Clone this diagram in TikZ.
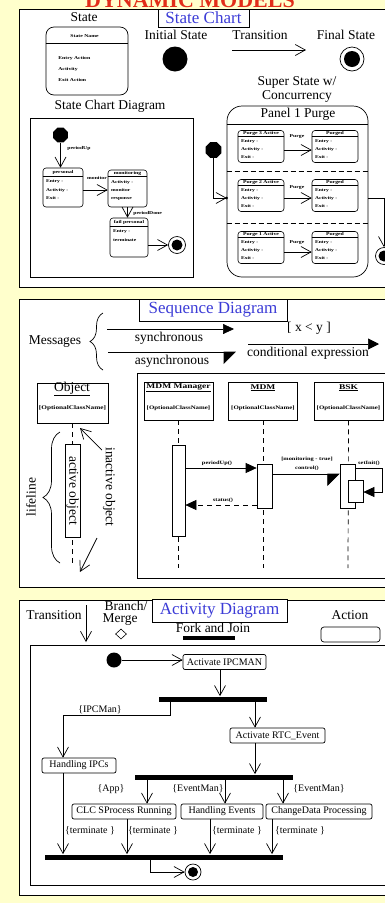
\documentclass[tikz,border=0pt]{standalone}
\usepackage{fontspec}
\setmainfont{Liberation Serif}
\newfontfamily\widefont[FakeStretch=1.3]{Liberation Serif}
\usetikzlibrary{arrows.meta,calc,decorations.pathreplacing,shapes.geometric}
\definecolor{bgyellow}{RGB}{255,255,204}
\definecolor{ttlblue}{RGB}{60,60,215}
\definecolor{ttlred}{RGB}{225,45,25}
\tikzset{
  panel/.style={draw=black, fill=white, line width=1pt},
  lbl/.style={inner sep=0, font=\fontsize{13.5}{15}\selectfont},
  ttlbox/.style={draw, fill=white, line width=0.8pt, text=ttlblue, font=\fontsize{17}{19}\selectfont, inner sep=0},
  tinyt/.style={inner sep=0, font=\widefont\bfseries\fontsize{4.4}{5}\selectfont},
  sbody/.style={inner sep=0, align=left, font=\widefont\bfseries\fontsize{4.3}{8.2}\selectfont},
  sbox/.style={draw, rounded corners=3pt, inner sep=0, fill=white, line width=0.6pt},
  oarr/.style={-{Straight Barb[length=10pt,width=11pt]}},
  farr/.style={-{Triangle[length=11pt,width=10pt]}},
  harr/.style={-{Triangle[right,length=12pt,width=24pt]}},
  lifel/.style={dash pattern=on 5pt off 4pt},
  oct/.style={regular polygon, regular polygon sides=8, fill=black, inner sep=0},
  objbox/.style={draw, fill=white, inner sep=0, minimum width=69pt, minimum height=38pt},
  actbox/.style={draw, fill=white, inner sep=0, minimum width=15pt},
  actn/.style={draw, fill=white, rounded corners=2pt, inner sep=0, minimum height=15pt, font=\fontsize{10}{11}\selectfont},
  forkbar/.style={fill=black, inner sep=0, minimum height=5pt},
  alb/.style={inner sep=0, font=\fontsize{10}{11}\selectfont},
  mlb/.style={inner sep=0, font=\widefont\bfseries\fontsize{4.9}{5}\selectfont},
}
\newcommand{\sstate}[7]{%
  \node[sbox, minimum width=#3pt, minimum height=#4pt] (#1) at (#2) {};
  \draw[line width=0.5pt] ($(#1.north west)+(0,#5)$) -- ($(#1.north east)+(0,#5)$);
  \node[tinyt] at ($(#1.north)+(0,#5/2)$) {#6};
  \node[sbody, anchor=north west] at ($(#1.north west)+(3,#5+3)$) {#7};
}
\begin{document}
\begin{tikzpicture}[x=1pt,y=-1pt,line width=0.7pt]
\useasboundingbox (0,0) rectangle (385,903);
\clip (0,0) rectangle (385,903);
\fill[bgyellow] (0,0) rectangle (385,903);
\node[anchor=base, text=ttlred, font=\bfseries\fontsize{22}{24}\selectfont, inner sep=0] (maintitle) at (190,7) {DYNAMIC MODELS};

% ================= Panel 1 : State chart
\draw[panel] (19,9) rectangle (392,287);
\node[ttlbox, minimum width=91pt, minimum height=18pt] (t1) at (203.5,18) {State Chart};

\node[lbl] (lstate) at (84,17) {State};
\node[draw, rounded corners=8pt, minimum width=82pt, minimum height=68pt, inner sep=0] (sleg) at (87,61) {};
\draw[line width=0.5pt] ($(sleg.north west)+(0,17)$) -- ($(sleg.north east)+(0,17)$);
\node[tinyt] (slegn) at (84.5,36) {State Name};
\node[tinyt, anchor=west] (slege) at (58,58) {Entry Action};
\node[tinyt, anchor=west] (slega) at (58,69) {Activity};
\node[tinyt, anchor=west] (slegx) at (58,80) {Exit Action};

\node[lbl] (linitl) at (176,35) {Initial State};
\node[fill, circle, minimum size=25pt, inner sep=0] (linit) at (175,59) {};
\node[lbl] (ltransl) at (260,35) {Transition};
\coordinate (ta) at (232,50);
\coordinate (tb) at (306,50);
\draw[oarr] (ta) -- (tb);
\node[lbl] (lfinl) at (346,35) {Final State};
\node[draw, circle, minimum size=24pt, inner sep=0] (lfin) at (352,59) {};
\node[fill, circle, minimum size=16pt, inner sep=0] (lfini) at (lfin) {};

% state chart diagram
\node[lbl] (scdl) at (110,106) {State Chart Diagram};
\draw (30,118) rectangle (193,277);
\node[oct, minimum size=16pt] (d0) at (60.5,135) {};
\sstate{d1}{63,187.5}{40}{39}{9}{personal}{Entry -\\Activity -\\Exit -}
\sstate{d2}{127.5,188.5}{39}{37}{7}{monitoring}{Activity -\\monitor\\response}
\sstate{d3}{129,237.5}{38}{39}{9}{fail personal}{Entry -\\terminate}
\node[draw, circle, minimum size=17pt, inner sep=0] (d4) at (177,245) {};
\node[fill, circle, minimum size=11pt, inner sep=0] (d4i) at (d4) {};
\draw[oarr] (d0) -- (d0 |- d1.north);
\node[tinyt, anchor=west] (l01) at (67,148) {periodUp};
\draw[oarr] ($(d1.east)+(0,2.5)$) -- ($(d2.west)+(0,1.5)$);
\node[tinyt] (l12) at (97,178) {monitor};
\draw[oarr] (d2.south) -- (d2.south |- d3.north);
\node[tinyt, anchor=west] (l23) at (133,213) {periodDone};
\draw[oarr] ($(d3.east)+(0,7.5)$) -- (d4.west);

% super state
\node[lbl] (ssl1) at (297,82) {Super State w/};
\node[lbl] (ssl2) at (297,96) {Concurrency};
\node[draw, rounded corners=15pt, minimum width=141pt, minimum height=171pt, inner sep=0] (sup) at (297.5,191.5) {};
\draw ($(sup.north west)+(0,19)$) -- ($(sup.north east)+(0,19)$);
\node[lbl] (supl) at (298,114) {Panel 1 Purge};
\draw[dash pattern=on 5pt off 3pt] ($(sup.north west)+(0,66)$) -- ($(sup.north east)+(0,66)$);
\draw[dash pattern=on 5pt off 3pt] ($(sup.north west)+(0,118)$) -- ($(sup.north east)+(0,118)$);
\sstate{p1a}{261,146.5}{46}{32}{6}{Purge 3 Active}{Entry -\\Activity -\\Exit -}
\sstate{p1b}{335,146.5}{46}{32}{6}{Purged}{Entry -\\Activity -\\Exit -}
\sstate{p2a}{261,195.5}{46}{32}{6}{Purge 2 Active}{Entry -\\Activity -\\Exit -}
\sstate{p2b}{335,195.5}{46}{32}{6}{Purged}{Entry -\\Activity -\\Exit -}
\sstate{p3a}{261,247.5}{46}{32}{6}{Purge 1 Active}{Entry -\\Activity -\\Exit -}
\sstate{p3b}{335,247.5}{46}{32}{6}{Purged}{Entry -\\Activity -\\Exit -}
\draw[oarr] ($(p1a.east)+(0,3.5)$) -- ($(p1b.west)+(0,3.5)$);
\draw[oarr] ($(p2a.east)+(0,2.5)$) -- ($(p2b.west)+(0,2.5)$);
\draw[oarr] ($(p3a.east)+(0,4.5)$) -- ($(p3b.west)+(0,4.5)$);
\node[tinyt] (pl1) at (297,137) {Purge};
\node[tinyt] (pl2) at (297,188) {Purge};
\node[tinyt] (pl3) at (297,243) {Purge};
\node[oct, minimum size=17pt] (s0) at (213.5,150) {};
\coordinate (s0b) at (213.5,198);
\draw[oarr] (s0) -- (s0b) -- (sup.west |- s0b);
\fill (sup.west |- s0b) circle (1.5);
\coordinate (r1) at (384,198);
\node[draw, circle, minimum size=17pt, inner sep=0] (sfin) at (384,256) {};
\node[fill, circle, minimum size=11pt, inner sep=0] (sfini) at (sfin) {};
\draw[oarr] (sup.east |- r1) -- (r1) -- (sfin.north);

% ================= Panel 2 : Sequence
\draw[panel] (19,299) rectangle (392,587);
\node[ttlbox, minimum width=148pt, minimum height=22pt] (t2) at (213,310) {Sequence Diagram};
\node[lbl] (msg) at (55,342) {Messages};
\draw[decorate, decoration={brace, amplitude=13pt}] (103,370) -- (103,313);
\coordinate (sy1) at (107,329);
\coordinate (sy2) at (234,329);
\draw[farr] (sy1) -- (sy2);
\node[lbl] (syl) at (169,338) {synchronous};
\coordinate (as1) at (108,352);
\coordinate (as2) at (236,352);
\draw[harr] (as1) -- (as2);
\node[lbl] (asl) at (172,361) {asynchronous};
\node[lbl] (cdl1) at (309,328) {[ x < y ]};
\coordinate (cd1) at (248,344);
\coordinate (cd2) at (379,344);
\draw[-{Triangle[length=11pt,width=11pt]}] (cd1) -- (cd2);
\node[lbl] (cdl2) at (308,353) {conditional expression};

% object legend
\node[draw, fill=white, minimum width=71pt, minimum height=40pt, inner sep=0] (obj) at (72.5,403) {};
\node[lbl] (objn) at (72,389) {\underline{Object}};
\node[inner sep=0, font=\widefont\bfseries\fontsize{5.6}{6}\selectfont] (objc) at (72.5,408) {[OptionalClassName]};
\coordinate (olend) at (72.5,567);
\draw[lifel] (obj.south) -- (olend);
\node[actbox, minimum height=93pt] (act) at (72.5,490.5) {};
\node[lbl, rotate=-90] (actl) at (act) {active object};
\draw[decorate, decoration={brace, amplitude=17pt}] (60,563) -- (60,432);
\node[lbl, rotate=90] (lifl) at (31,497) {lifeline};
\node[lbl, rotate=-90] (inal) at (109,487) {inactive object};
\coordinate (ia1) at (102,450);
\coordinate (ia2) at (80,428);
\coordinate (ib1) at (97,538);
\coordinate (ib2) at (80,572);
\draw[oarr] (ia1) -- (ia2);
\draw[oarr] (ib1) -- (ib2);

% sequence example
\draw (137,373) rectangle (392,578);
\node[objbox] (mm) at (178.5,401) {};
\node[objbox] (mdm) at (263,401) {};
\node[objbox] (bsk) at (348.5,401) {};
\foreach \o/\t in {mm/MDM Manager, mdm/MDM, bsk/BSK}{
  \node[inner sep=0, font=\widefont\bfseries\fontsize{7.3}{8}\selectfont] at ($(\o.north)+(0,6)$) {\underline{\t}};
  \node[inner sep=0, font=\widefont\bfseries\fontsize{5.3}{6}\selectfont] at ($(\o.north)+(0,27)$) {[OptionalClassName]};
}
\coordinate (mmend) at (178.5,568);
\coordinate (mdmend) at (263,568);
\coordinate (bskend) at (348,568);
\draw[lifel] (mm.south) -- (mmend);
\draw[lifel] (mdm.south) -- (mdmend);
\draw[lifel] (bsk.south) -- (bskend);
\node[actbox, minimum width=13pt, minimum height=91pt] (mma) at (178.5,490.5) {};
\node[actbox, minimum height=44pt] (mdma) at (264.5,486) {};
\node[actbox, minimum height=44pt] (bska) at (347.5,486) {};
\node[actbox, minimum height=22pt] (bskn) at (355.5,491) {};
\coordinate (y1) at (0,468);
\coordinate (y2) at (0,474);
\coordinate (y3) at (0,492);
\coordinate (y4) at (0,505);
\coordinate (sc1) at (382,468);
\coordinate (sc2) at (382,492);
\draw[farr] (mma.east |- y1) -- (mdma.west |- y1);
\node[mlb] (m1) at (217,463) {periodUp()};
\draw[harr] (mdma.east |- y2) -- (bska.west |- y2);
\node[mlb] (m2) at (307,459) {[monitoring - true]};
\node[mlb] (m3) at (307,468) {control()};
\draw[farr] (bska.east |- y1) -- (sc1) -- (sc2) -- (bskn.east |- y3);
\node[mlb] (m4) at (369,463) {setInit()};
\draw[farr, lifel] (mdma.west |- y4) -- (mma.east |- y4);
\node[mlb] (m5) at (223,500) {status()};

% ================= Panel 3 : Activity
\draw[panel] (19,600) rectangle (392,895);
\node[ttlbox, minimum width=135pt, minimum height=23pt] (t3) at (219.5,610.5) {Activity Diagram};
\node[lbl] (trl) at (54,615) {Transition};
\coordinate (tr1) at (86,605);
\coordinate (tr2) at (86,642);
\draw[oarr] (tr1) -- (tr2);
\node[lbl] (brl) at (126,606) {Branch/};
\node[lbl] (mgl) at (120,620) {Merge};
\node[draw, diamond, minimum width=11pt, minimum height=10pt, inner sep=0, line width=0.6pt] (dia) at (121,634) {};
\node[lbl] (fjl) at (213,628) {Fork and Join};
\node[forkbar, minimum width=52pt, minimum height=4pt] (fjb) at (209,638) {};
\node[lbl] (acl) at (350,615) {Action};
\node[draw, fill=white, rounded corners=3pt, minimum width=59pt, minimum height=15pt, inner sep=0] (acb) at (350.5,634.5) {};

\draw (30,645) rectangle (392,885);
\node[fill, circle, minimum size=15pt, inner sep=0] (a0) at (114,660) {};
\node[actn, minimum width=83pt] (a1) at (224.5,662) {Activate IPCMAN};
\draw[oarr] (a0) -- (a1.west |- a0);
\node[forkbar, minimum width=108pt] (f1) at (213,699) {};
\coordinate (x220) at (220,0);
\draw[oarr] (a1.south -| x220) -- (f1.north -| x220);
\node[actn, minimum width=74pt] (hipc) at (79,765.5) {Handling IPCs};
\node[actn, minimum width=95pt] (rtc) at (277.5,735.5) {Activate RTC\_Event};
\coordinate (b1) at (170,715);
\coordinate (b2) at (63,715);
\draw[oarr] (f1.south -| b1) -- (b1) -- (b2) -- (hipc.north -| b2);
\node[alb] (lipc) at (100,710) {\{IPCMan\}};
\coordinate (x255) at (255,0);
\draw[oarr] (f1.south -| x255) -- (rtc.north -| x255);
\node[forkbar, minimum width=158pt] (f2) at (214,777) {};
\draw[oarr] (rtc.south -| x255) -- (f2.north -| x255);
\node[actn, minimum width=104pt] (clc) at (124,811.5) {CLC SProcess Running};
\node[actn, minimum width=82pt] (hev) at (222,811.5) {Handling Events};
\node[actn, minimum width=106pt] (cdp) at (319,811.5) {ChangeData Processing};
\coordinate (x147) at (147,0);
\coordinate (x225) at (225,0);
\coordinate (x283) at (283,0);
\draw[oarr] (f2.south -| x147) -- (clc.north -| x147);
\draw[oarr] (f2.south -| x225) -- (hev.north -| x225);
\draw[oarr] (f2.south -| x283) -- (cdp.north -| x283);
\node[alb] (lapp) at (111,789) {\{App\}};
\node[alb] (lev1) at (198,789) {\{EventMan\}};
\node[alb] (lev2) at (319,789) {\{EventMan\}};
\node[forkbar, minimum width=238pt] (jn) at (164,857) {};
\coordinate (x63) at (63,0);
\coordinate (x127) at (127,0);
\coordinate (x210) at (210,0);
\coordinate (x272) at (272,0);
\draw[oarr] (hipc.south -| x63) -- (jn.north -| x63);
\draw[oarr] (clc.south -| x127) -- (jn.north -| x127);
\draw[oarr] (hev.south -| x210) -- (jn.north -| x210);
\draw[oarr] (cdp.south -| x272) -- (jn.north -| x272);
\node[alb] (lt1) at (90,831) {\{terminate \}};
\node[alb] (lt2) at (153,831) {\{terminate \}};
\node[alb] (lt3) at (237,831) {\{terminate \}};
\node[alb] (lt4) at (300,831) {\{terminate \}};
\node[draw, circle, minimum size=16pt, inner sep=0] (afin) at (193,872) {};
\node[fill, circle, minimum size=10pt, inner sep=0] (afini) at (afin) {};
\coordinate (j1) at (150,872);
\draw[oarr] (jn.south -| j1) -- (j1) -- (afin.west);
\end{tikzpicture}
\end{document}
